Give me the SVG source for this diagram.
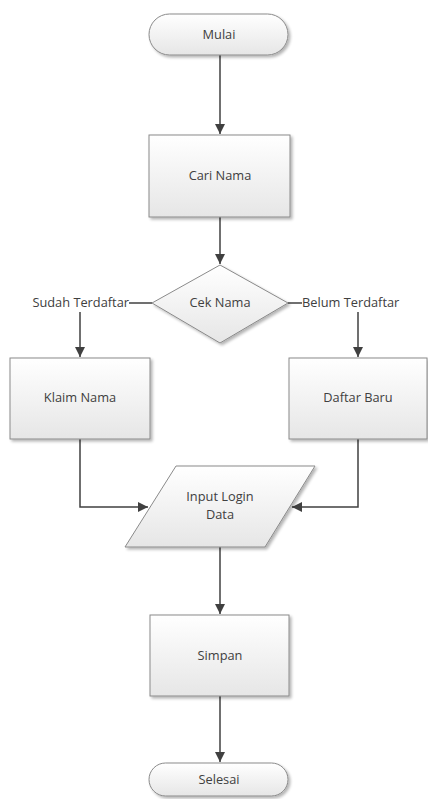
<svg xmlns="http://www.w3.org/2000/svg" width="428" height="799" viewBox="0 0 428 799">
<defs>
<linearGradient id="g" x1="0" y1="0" x2="0" y2="1">
<stop offset="0" stop-color="#ffffff"/>
<stop offset="1" stop-color="#e6e6e6"/>
</linearGradient>
<filter id="sh" x="-10%" y="-10%" width="125%" height="130%">
<feGaussianBlur in="SourceAlpha" stdDeviation="1.5"/>
<feOffset dx="1.5" dy="1.5"/>
<feComponentTransfer><feFuncA type="linear" slope="0.3"/></feComponentTransfer>
<feMerge><feMergeNode/><feMergeNode in="SourceGraphic"/></feMerge>
</filter>
<marker id="ah" markerWidth="10" markerHeight="10" refX="10" refY="5" orient="auto" markerUnits="userSpaceOnUse">
<path d="M0,0 L10,5 L0,10 Z" fill="#404040"/>
</marker>
</defs>
<style>
.shape{fill:url(#g);stroke:#8a8a8a;stroke-width:1;filter:url(#sh)}
.t{font-family:"Open Sans","Liberation Sans",sans-serif;font-size:12.8px;font-weight:500;fill:#404040;text-anchor:middle}
.tl{font-family:"Open Sans","Liberation Sans",sans-serif;font-size:12.8px;font-weight:500;fill:#404040}
.c{fill:none;stroke:#404040;stroke-width:1.5}
</style>
<rect width="428" height="799" fill="#ffffff"/>
<g id="connectors">
<path class="c" d="M220,55 L220,134" marker-end="url(#ah)"/>
<path class="c" d="M220,217 L220,264" marker-end="url(#ah)"/>
<path class="c" d="M152,303 L129,303"/>
<path class="c" d="M288,303 L302,303"/>
<path class="c" d="M80,312 L80,357" marker-end="url(#ah)"/>
<path class="c" d="M358,312 L358,357" marker-end="url(#ah)"/>
<path class="c" d="M80,439 L80,507 L148,507" marker-end="url(#ah)"/>
<path class="c" d="M358,439 L358,507 L292,507" marker-end="url(#ah)"/>
<path class="c" d="M220,547 L220,614" marker-end="url(#ah)"/>
<path class="c" d="M220,696 L220,762" marker-end="url(#ah)"/>
</g>
<g id="mulai">
<rect class="shape" x="149" y="14" width="139" height="41" rx="20.5"/>
<text class="t" x="219" y="39">Mulai</text>
</g>
<g id="cari-nama">
<rect class="shape" x="149" y="135" width="141" height="82"/>
<text class="t" x="220" y="180">Cari Nama</text>
</g>
<g id="cek-nama">
<polygon class="shape" points="220,265 288,303 220,343 152,303"/>
<text class="t" x="220" y="307">Cek Nama</text>
</g>
<g id="label-sudah">
<text class="tl" x="129" y="307" text-anchor="end">Sudah Terdaftar</text>
</g>
<g id="label-belum">
<text class="tl" x="302" y="307">Belum Terdaftar</text>
</g>
<g id="klaim-nama">
<rect class="shape" x="10" y="358" width="140" height="81"/>
<text class="t" x="80" y="402">Klaim Nama</text>
</g>
<g id="daftar-baru">
<rect class="shape" x="289" y="358" width="138" height="81"/>
<text class="t" x="358" y="402">Daftar Baru</text>
</g>
<g id="input-login">
<polygon class="shape" points="176,466 315,466 265,547 125,547"/>
<text class="t" x="220" y="501">Input Login</text>
<text class="t" x="220" y="519">Data</text>
</g>
<g id="simpan">
<rect class="shape" x="150" y="615" width="139" height="81"/>
<text class="t" x="220" y="660">Simpan</text>
</g>
<g id="selesai">
<rect class="shape" x="149" y="763" width="139" height="33" rx="16.5"/>
<text class="t" x="219" y="784">Selesai</text>
</g>
</svg>
